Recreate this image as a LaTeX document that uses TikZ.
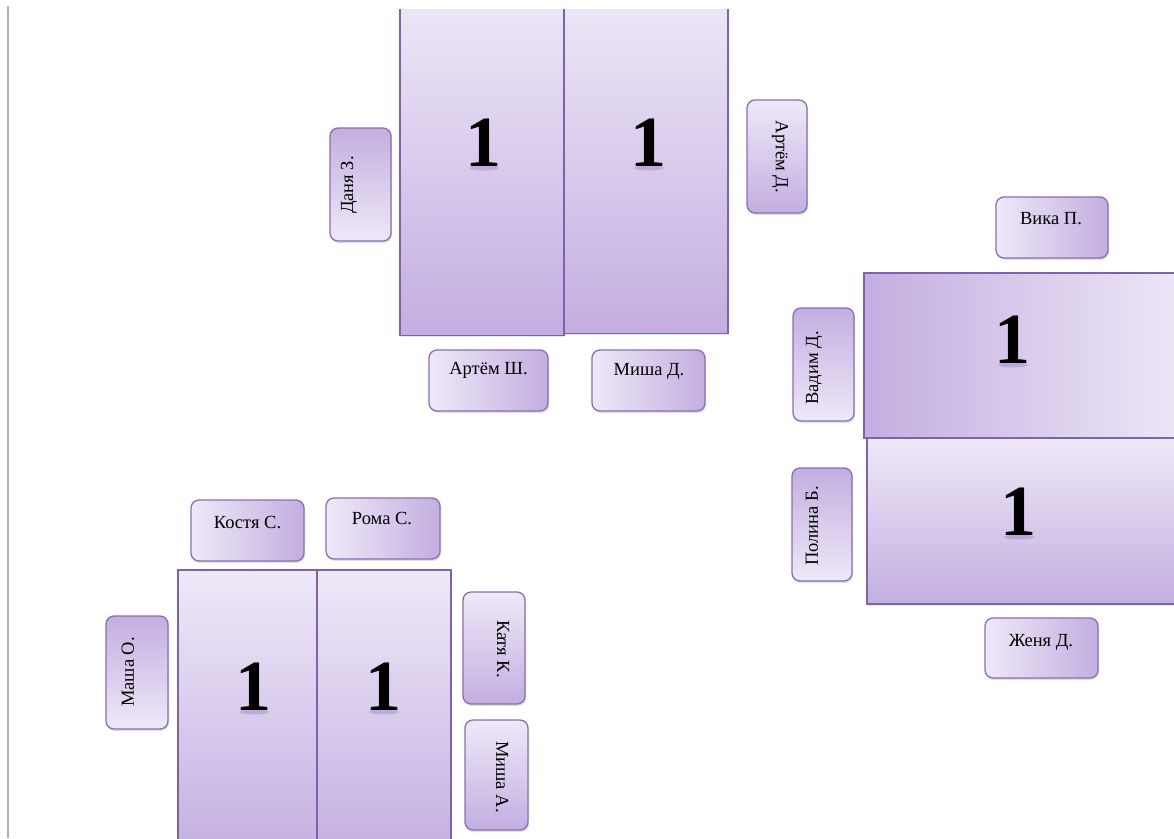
\documentclass[tikz,border=0pt]{standalone}
\usepackage{fontspec}
\setmainfont{Liberation Serif}
\usetikzlibrary{shadows,calc}
\definecolor{lt}{HTML}{EEE9F8}
\definecolor{dk}{HTML}{C3AEE0}
\definecolor{bd}{HTML}{8A6DB6}
\definecolor{rl}{HTML}{7F62AE}
\definecolor{gline}{HTML}{A9AFB5}
\tikzset{
 namebox/.style={draw=bd, line width=1.3pt, rounded corners=8pt, inner sep=0pt,
   drop shadow={shadow xshift=1pt,shadow yshift=-2pt,opacity=0.25}},
 hbox/.style={namebox, left color=lt, right color=dk},
 ccwbox/.style={namebox, top color=dk, bottom color=lt},
 cwbox/.style={namebox, top color=lt, bottom color=dk},
 nametext/.style={font=\fontsize{18.5}{18.5}\selectfont, inner sep=0pt},
 desk/.style={draw=rl, line width=1.5pt, inner sep=0pt,
   drop shadow={shadow xshift=1pt,shadow yshift=-2pt,opacity=0.2}},
 vdesk/.style={desk, top color=lt, bottom color=dk},
 num/.style={font=\fontsize{72}{72}\selectfont\bfseries, inner sep=0pt},
 glow/.style={fill=rl, opacity=0.3},
}
\begin{document}
\begin{tikzpicture}[x=1pt,y=-1pt]
\useasboundingbox (0,0) rectangle (1174,838);
\draw[gline, line width=2pt] (7.8,6) -- (7.8,838);

\begin{scope}
\clip (0,9) rectangle (1174,838);
% top group desks
\node[vdesk, minimum width=164pt, minimum height=346pt, anchor=south west] (d1) at (399,336) {};
\node[vdesk, minimum width=164pt, minimum height=344pt, anchor=south west] (d2) at (563,334) {};
% right group desks
\node[desk, left color=dk, right color=lt, minimum width=330pt, minimum height=165pt, anchor=north west] (d3) at (863,272) {};
\node[vdesk, minimum width=330pt, minimum height=166pt, anchor=north west] (d4) at (866,437) {};
% bottom-left group desks
\node[vdesk, minimum width=139pt, minimum height=290pt, anchor=north west] (d5) at (177,569) {};
\node[vdesk, minimum width=134pt, minimum height=290pt, anchor=north west] (d6) at (316,569) {};
\end{scope}

% numbers
\foreach \nx/\ny/\nn in {483/143/n1, 648/143/n2, 1012/340/n3, 1018/512/n4, 253/687/n5, 383/687/n6}{
  \fill[glow] (\nx+1,\ny+25) ellipse [x radius=15pt, y radius=2.5pt];
  \node[num] (\nn) at (\nx,\ny) {1};
}

% top group names
\node[ccwbox, minimum width=61pt, minimum height=113pt] (b1) at (360.5,184.5) {};
\node[nametext, rotate=90] (t1) at (349,185) {Даня З.};
\node[cwbox, minimum width=60pt, minimum height=113pt] (b2) at (777,156.5) {};
\node[nametext, rotate=-90] (t2) at (780,157) {Артём Д.};
\node[hbox, minimum width=119pt, minimum height=61pt] (b3) at (488.5,380.5) {};
\node[nametext] (t3) at (488.5,370) {Артём Ш.};
\node[hbox, minimum width=113pt, minimum height=61pt] (b4) at (648.5,380.5) {};
\node[nametext] (t4) at (649,371) {Миша Д.};

% right group names
\node[hbox, minimum width=112pt, minimum height=61pt] (b5) at (1052,227.5) {};
\node[nametext] (t5) at (1051,219) {Вика П.};
\node[ccwbox, minimum width=61pt, minimum height=113pt] (b6) at (823.5,364.5) {};
\node[nametext, rotate=90] (t6) at (814,368) {Вадим Д.};
\node[ccwbox, minimum width=60pt, minimum height=113pt] (b7) at (822,524.5) {};
\node[nametext, rotate=90] (t7) at (812,526) {Полина Б.};
\node[hbox, minimum width=113pt, minimum height=60pt] (b8) at (1041.5,648) {};
\node[nametext] (t8) at (1041,642) {Женя Д.};

% bottom-left group names
\node[hbox, minimum width=113pt, minimum height=61pt] (b9) at (247.5,530.5) {};
\node[nametext] (t9) at (247.5,522) {Костя С.};
\node[hbox, minimum width=114pt, minimum height=61pt] (b10) at (383,528.5) {};
\node[nametext] (t10) at (382,518) {Рома С.};
\node[ccwbox, minimum width=62pt, minimum height=113pt] (b11) at (137,672.5) {};
\node[nametext, rotate=90] (t11) at (128,672) {Маша О.};
\node[cwbox, minimum width=62pt, minimum height=112pt] (b12) at (494,648) {};
\node[nametext, rotate=-90] (t12) at (503,649) {Катя К.};
\node[cwbox, minimum width=63pt, minimum height=110pt] (b13) at (496.5,775) {};
\node[nametext, rotate=-90] (t13) at (502,777) {Миша А.};
\end{tikzpicture}
\end{document}
